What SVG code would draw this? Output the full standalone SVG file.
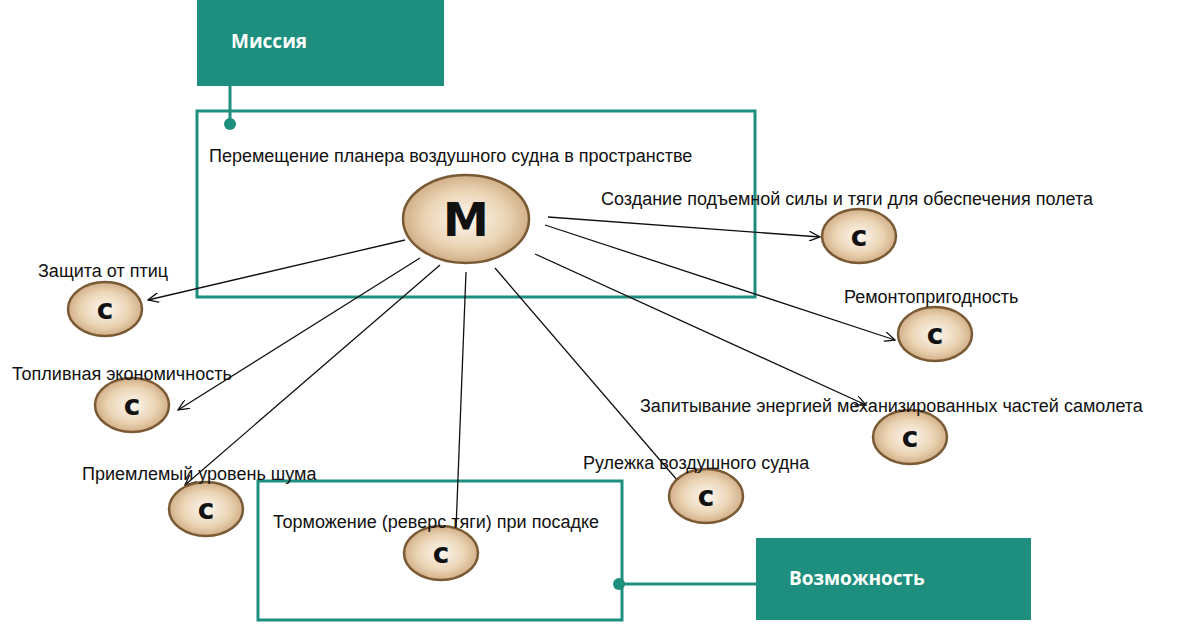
<svg xmlns="http://www.w3.org/2000/svg" width="1200" height="625" viewBox="0 0 1200 625">
<defs>
<radialGradient id="g" cx="50%" cy="50%" r="55%">
<stop offset="0" stop-color="#fdf8f0"/><stop offset="0.6" stop-color="#ead3b3"/><stop offset="1" stop-color="#c9a47a"/>
</radialGradient>
<marker id="a" viewBox="0 0 12 10" refX="11" refY="5" markerWidth="12" markerHeight="10" markerUnits="userSpaceOnUse" orient="auto"><path d="M0,0 L11,5 L0,10" fill="none" stroke="#111" stroke-width="1.3"/></marker>
</defs>
<style>
.t{font-family:"Liberation Sans",Arial,sans-serif;font-size:18px;fill:#111}
.w{font-family:"Open Sans","Liberation Sans",sans-serif;font-size:19px;font-weight:bold;fill:#fff}
.f{fill:none;stroke:#1e8f7e;stroke-width:3}
.c ellipse{fill:url(#g);stroke:#7a5a35;stroke-width:2.5}
.c text{font-family:"DejaVu Sans",sans-serif;font-weight:bold;fill:#111;text-anchor:middle}
.e{stroke:#111;stroke-width:1.3;fill:none;marker-end:url(#a)}
</style>
<rect width="1200" height="625" fill="#fff"/>
<g id="frames">
<rect class="f" x="197" y="111" width="558" height="186"/>
<rect class="f" x="258" y="481" width="364" height="139"/>
</g>
<g id="mission">
<rect x="197" y="0" width="247" height="86" fill="#1e8f7e"/>
<text class="w" x="231" y="48">Миссия</text>
<line x1="230" y1="86" x2="230" y2="124" stroke="#1e8f7e" stroke-width="3"/>
<circle cx="230" cy="124" r="6" fill="#1e8f7e"/>
</g>
<g id="opportunity">
<rect x="756" y="538" width="275" height="82" fill="#1e8f7e"/>
<text class="w" x="789" y="585">Возможность</text>
<line x1="619" y1="584" x2="756" y2="584" stroke="#1e8f7e" stroke-width="3"/>
<circle cx="619" cy="584" r="6" fill="#1e8f7e"/>
</g>
<g id="connectors">
<line class="e" x1="548" y1="217" x2="820" y2="237"/>
<line class="e" x1="545" y1="225" x2="895" y2="340"/>
<line class="e" x1="535" y1="254" x2="866" y2="405"/>
<line class="e" x1="495" y1="268" x2="690" y2="495"/>
<line class="e" x1="466" y1="272" x2="455" y2="555"/>
<line class="e" x1="440" y1="265" x2="185" y2="485"/>
<line class="e" x1="420" y1="258" x2="178" y2="410"/>
<line class="e" x1="405" y1="240" x2="148" y2="300"/>
</g>
<g id="m" class="c"><ellipse cx="466" cy="219" rx="63" ry="44"/><text x="466" y="236" font-size="46">M</text></g>
<g id="c1" class="c"><ellipse cx="859" cy="236" rx="37" ry="27"/><text x="859" y="246" font-size="28">c</text></g>
<g id="c2" class="c"><ellipse cx="935" cy="334" rx="37" ry="27"/><text x="935" y="344" font-size="28">c</text></g>
<g id="c3" class="c"><ellipse cx="910" cy="437" rx="37" ry="27"/><text x="910" y="447" font-size="28">c</text></g>
<g id="c4" class="c"><ellipse cx="706" cy="496" rx="37" ry="27"/><text x="706" y="506" font-size="28">c</text></g>
<g id="c5" class="c"><ellipse cx="441" cy="553" rx="37" ry="27"/><text x="441" y="563" font-size="28">c</text></g>
<g id="c6" class="c"><ellipse cx="206" cy="509" rx="37" ry="27"/><text x="206" y="519" font-size="28">c</text></g>
<g id="c7" class="c"><ellipse cx="132" cy="405" rx="37" ry="27"/><text x="132" y="415" font-size="28">c</text></g>
<g id="c8" class="c"><ellipse cx="105" cy="309" rx="37" ry="27"/><text x="105" y="319" font-size="28">c</text></g>
<g id="labels">
<text class="t" x="209" y="162">Перемещение планера воздушного судна в пространстве</text>
<text class="t" x="601" y="205">Создание подъемной силы и тяги для  обеспечения полета</text>
<text class="t" x="844" y="303">Ремонтопригодность</text>
<text class="t" x="640" y="412">Запитывание энергией механизированных частей самолета</text>
<text class="t" x="583" y="469">Рулежка воздушного судна</text>
<text class="t" x="273" y="528">Торможение (реверс тяги) при посадке</text>
<text class="t" x="82" y="480">Приемлемый уровень шума</text>
<text class="t" x="12" y="380">Топливная экономичность</text>
<text class="t" x="38" y="277">Защита от птиц</text>
</g>
</svg>
